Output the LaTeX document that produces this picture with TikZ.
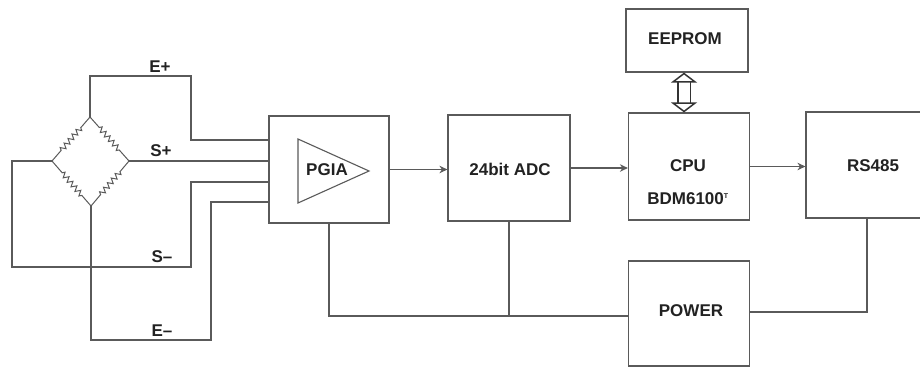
\documentclass[tikz,border=0pt]{standalone}
\usepackage{fontspec}
\setmainfont{Liberation Sans}
\usetikzlibrary{arrows.meta, calc, decorations.pathmorphing}
\definecolor{wirecol}{HTML}{5A5A5A}
\definecolor{textcol}{HTML}{222222}

\tikzset{
  block/.style={draw=wirecol, line width=1.2pt, fill=white, inner sep=0pt},
  wire/.style={draw=wirecol, line width=1.1pt},
  flow/.style={wire, -{Stealth[length=8pt,width=7.5pt]}},
  resistor/.style={draw=wirecol, line width=1pt, decorate,
    decoration={zigzag, amplitude=2.6pt, segment length=6pt, pre length=14pt, post length=14pt}},
  lbl/.style={font=\fontsize{17}{19}\selectfont\bfseries, text=textcol, inner sep=0pt},
  busarrow/.style={draw=black!80, line width=1.5pt, double=white, double distance=11pt,
    {Triangle[open, length=10pt, width=26pt, fill=white]}-{Triangle[open, length=10pt, width=26pt, fill=white]}},
}

\begin{document}
\begin{tikzpicture}[x=1pt, y=-1pt]
      \clip[use as bounding box] (0,0) rectangle (920,367);

      % Blocks
      \node[block, minimum width=120pt, minimum height=107pt] (pgia) at (329,169.5) {};
      \node[block, minimum width=122pt, minimum height=106pt] (adc) at (509,168) {};
      \node[block, minimum width=121pt, minimum height=107pt] (cpu) at (689,166.5) {};
      \node[block, minimum width=122pt, minimum height=63pt] (eeprom) at (687,40.5) {};
      \node[block, minimum width=122pt, minimum height=106pt] (rs) at (867,165) {};
      \node[block, minimum width=121pt, minimum height=105pt] (power) at (689,313.5) {};

      \node[lbl] (adctext) at (510,169) {24bit ADC};
      \node[lbl] (cputext) at (688,166) {CPU};
      \node[lbl] (cpumodel) at (688,199) {BDM6100\textsuperscript{\fontsize{7}{7}\selectfont T}};
      \node[lbl] (eepromtext) at (685,39) {EEPROM};
      \node[lbl] (rstext) at (873,166) {RS485};
      \node[lbl] (powertext) at (691,311) {POWER};

      % Amplifier
      \coordinate (ampa) at (298,139);
      \coordinate (ampb) at (369,171);
      \coordinate (ampc) at (298,203);
      \draw[wire] (ampa) -- (ampb) -- (ampc) -- cycle;
      \node[lbl] (pgiatext) at (327,170) {PGIA};

      % Bridge
      \coordinate (top) at (90,117);
      \coordinate (right) at (129,161);
      \coordinate (bottom) at (91,206);
      \coordinate (left) at (52,161);
      \draw[resistor] (left) -- (top);
      \draw[resistor] (top) -- (right);
      \draw[resistor] (right) -- (bottom);
      \draw[resistor] (bottom) -- (left);

      % Input lines
      \draw[wire] (top) -- (90,76) -- (191,76) -- (191,140) -- (pgia.west |- 0,140);
      \draw[wire] (right) -- (pgia.west |- right);
      \draw[wire] (pgia.west |- 0,182) -- (191,182) -- (191,267) -- (12,267) -- (12,161) -- (left);
      \draw[wire] (pgia.west |- 0,202) -- (211,202) -- (211,340) -- (91,340) -- (bottom);
      \node[lbl] (eplus) at (160,67) {E+};
      \node[lbl] (splus) at (161,151) {S+};
      \node[lbl] (sminus) at (162,257) {S–};
      \node[lbl] (eminus) at (162,331) {E–};

      % Signal path
      \draw[flow] (pgia.east) -- (pgia.east -| adc.west);
      \draw[flow] (adc.east) -- (adc.east -| cpu.west);
      \draw[flow] (cpu.east) -- (cpu.east -| rs.west);
      \draw[busarrow] (eeprom.south -| 684,0) -- (cpu.north -| 684,0);

      % Supply
      \draw[wire] (pgia.south) |- (0,316 -| power.west);
      \draw[wire] (adc.south) -- (adc.south |- 0,316);
      \draw[wire] (power.east |- 0,312) -| (rs.south);
\end{tikzpicture}
\end{document}
